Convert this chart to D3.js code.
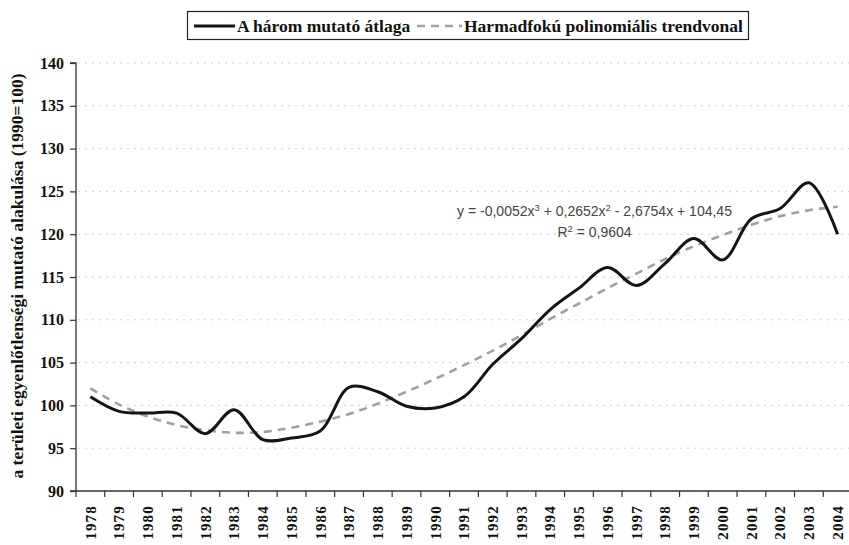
<!DOCTYPE html>
<html>
<head>
<meta charset="utf-8">
<script src="https://cdn.jsdelivr.net/npm/d3@7"></script>
<style>
html,body{margin:0;padding:0;background:#fff;}
svg{display:block;}
.serif{font-family:"Liberation Serif","DejaVu Serif","Times New Roman",serif;font-weight:bold;fill:#111;}
.sans{font-family:"Liberation Sans",Arial,sans-serif;fill:#444;}
</style>
</head>
<body>
<svg id="chart" width="849" height="545"></svg>
<script>
const years = ["1978","1979","1980","1981","1982","1983","1984","1985","1986","1987","1988","1989","1990","1991","1992","1993","1994","1995","1996","1997","1998","1999","2000","2001","2002","2003","2004"];
const average = [101.0,99.3,99.1,99.1,96.7,99.5,96.0,96.2,97.0,102.1,101.6,99.9,99.7,101.0,104.8,107.8,111.2,113.7,116.1,114.0,116.6,119.5,117.0,121.8,123.0,126.0,120.0];
const trend = [102.0,100.1,98.7,97.7,97.1,96.8,96.9,97.4,98.1,99.0,100.2,101.6,103.1,104.7,106.4,108.2,110.1,111.9,113.7,115.4,117.1,118.6,119.9,121.1,122.1,122.8,123.2];
const yTicks = [90,95,100,105,110,115,120,125,130,135,140];
const legendLabels = ["A három mutató átlaga","Harmadfokú polinomiális trendvonal"];
const yTitle = "a területi egyenlőtlenségi mutató alakulása (1990=100)";
const equation = ["y = -0,0052x", "3", " + 0,2652x", "2", " - 2,6754x + 104,45"];
const rSquared = ["R", "2", " = 0,9604"];

(function () {
const svg = d3.select("#chart");
const pLeft = 76, pRight = 852, pTop = 63, pBottom = 491;

const x = d3.scaleBand().domain(years).range([pLeft, pRight]).padding(0);
const y = d3.scaleLinear().domain([90, 140]).range([pBottom, pTop]);

svg.append("g").selectAll("line").data(yTicks.filter(d => d > 90)).join("line")
  .attr("x1", pLeft + 2).attr("x2", pRight)
  .attr("y1", d => y(d)).attr("y2", d => y(d))
  .attr("stroke", "#cfcfcf").attr("stroke-width", 1).attr("stroke-dasharray", "2,5");

const yAxis = svg.append("g").attr("transform", `translate(${pLeft},0)`)
  .call(d3.axisLeft(y).tickValues(yTicks).tickSize(6).tickPadding(6).tickFormat(d3.format("d")));
yAxis.attr("font-family", null).attr("font-size", null);
yAxis.select(".domain").attr("stroke", "#333").attr("stroke-width", 1.3).attr("d", `M-6,${pTop}H0V${pBottom}H-6`);
yAxis.selectAll(".tick line").attr("stroke", "#333").attr("stroke-width", 1.2);
yAxis.selectAll("text").attr("class", "serif").attr("fill", null).style("font-size", "16px");

const xAxis = svg.append("g").attr("transform", `translate(0,${pBottom})`);
xAxis.append("line").attr("x1", pLeft).attr("x2", pRight).attr("y1", 0).attr("y2", 0)
  .attr("stroke", "#333").attr("stroke-width", 1.3);
xAxis.selectAll("line.tk").data(years).join("line").attr("class", "tk")
  .attr("x1", d => x(d)).attr("x2", d => x(d)).attr("y1", 0).attr("y2", 6)
  .attr("stroke", "#333").attr("stroke-width", 1.2);
xAxis.selectAll("text").data(years).join("text")
  .attr("class", "serif")
  .attr("transform", d => `translate(${x(d) + x.bandwidth() / 2},14) rotate(-90)`)
  .attr("text-anchor", "end").attr("dy", "0.35em")
  .style("font-size", "15px").style("letter-spacing", "1.2px")
  .text(d => d);

svg.append("text").attr("class", "serif")
  .attr("transform", `translate(17,276) rotate(-90)`)
  .attr("text-anchor", "middle").attr("dy", "0.35em")
  .style("font-size", "17.5px")
  .text(yTitle);

const cx = d => x(d) + x.bandwidth() / 2;

const line = d3.line().x((d, i) => cx(years[i])).y(d => y(d)).curve(d3.curveCatmullRom.alpha(0.5));
svg.append("path").datum(trend).attr("d", line)
  .attr("fill", "none").attr("stroke", "#a0a0a0").attr("stroke-width", 2.6).attr("stroke-dasharray", "8,6");

svg.append("path").datum(average).attr("d", line)
  .attr("fill", "none").attr("stroke", "#141414").attr("stroke-width", 3).attr("stroke-linejoin", "round");

function supText(parts, px, py) {
  const t = svg.append("text").attr("class", "sans").attr("x", px).attr("y", py).attr("text-anchor", "middle")
    .style("font-size", "14px");
  parts.forEach((p, i) => {
    if (i % 2 === 1) t.append("tspan").attr("dy", -5).style("font-size", "9.5px").text(p);
    else t.append("tspan").attr("dy", i === 0 ? 0 : 5).text(p);
  });
}
supText(equation, 594.5, 216);
supText(rSquared, 594.5, 237);

const lg = svg.append("g");
lg.append("rect").attr("x", 187.5).attr("y", 11.5).attr("width", 561).attr("height", 28)
  .attr("fill", "#fff").attr("stroke", "#222").attr("stroke-width", 1.2);
lg.append("line").attr("x1", 194).attr("x2", 235).attr("y1", 26).attr("y2", 26)
  .attr("stroke", "#141414").attr("stroke-width", 3);
lg.append("text").attr("class", "serif").attr("x", 237).attr("y", 31.5).style("font-size", "17.5px").text(legendLabels[0]);
lg.append("line").attr("x1", 417).attr("x2", 462).attr("y1", 26).attr("y2", 26)
  .attr("stroke", "#a0a0a0").attr("stroke-width", 2.6).attr("stroke-dasharray", "8,6");
lg.append("text").attr("class", "serif").attr("x", 464).attr("y", 31.5).style("font-size", "17.5px").text(legendLabels[1]);
})();
</script>
</body>
</html>
